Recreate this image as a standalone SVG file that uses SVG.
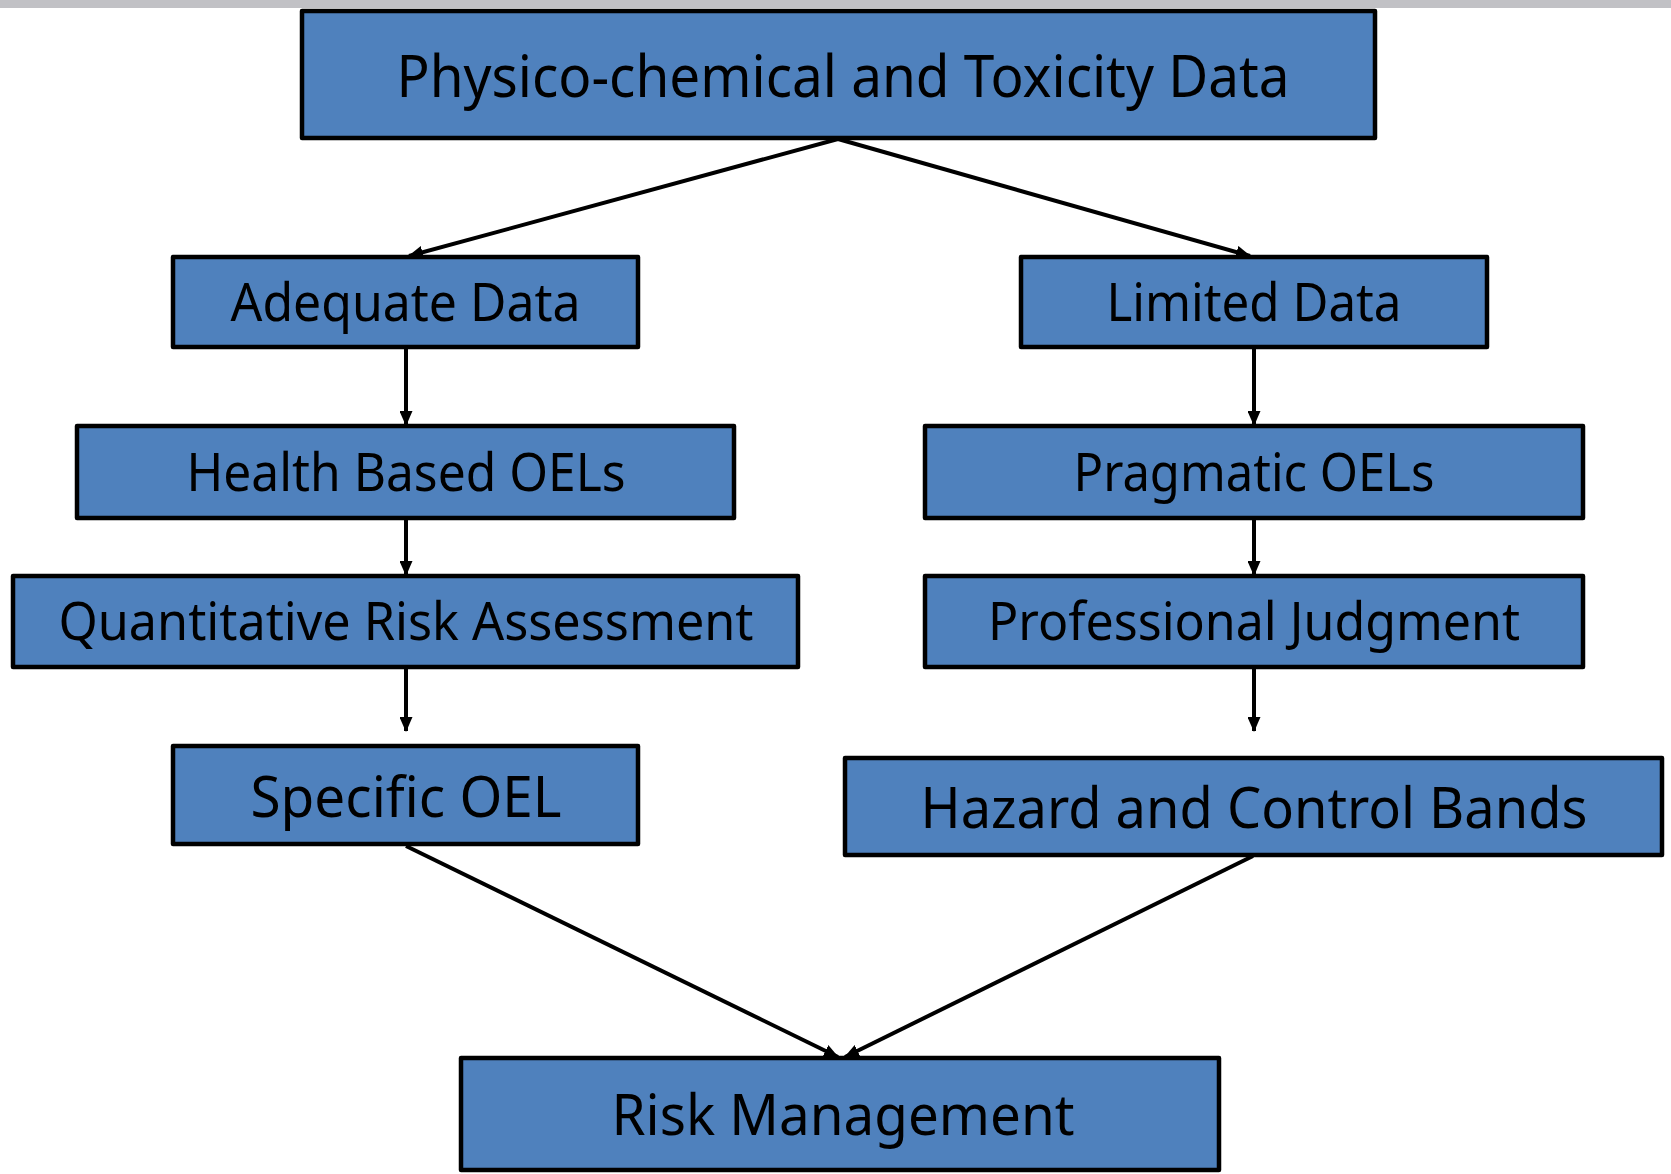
<svg xmlns="http://www.w3.org/2000/svg" width="1671" height="1174" viewBox="0 0 1671 1174">
<style>
.box{fill:#4F81BD;stroke:#000;stroke-width:4.5;stroke-linejoin:round}
.t{font-family:"Noto Sans","Open Sans",sans-serif;fill:#000;text-anchor:middle}
.c{stroke:#000;stroke-width:4;fill:none;marker-end:url(#ah)}
</style>
<defs>
<marker id="ah" markerUnits="userSpaceOnUse" markerWidth="15" markerHeight="13" refX="14" refY="6.5" orient="auto">
<path d="M0,0 L15,6.5 L0,13 Z" fill="#000"/>
</marker>
</defs>
<rect x="0" y="0" width="1671" height="8" fill="#c1c1c5"/>
<g id="connectors">
<line class="c" x1="838" y1="139" x2="409" y2="256"/>
<line class="c" x1="838" y1="139" x2="1250" y2="256"/>
<line class="c" x1="406" y1="349" x2="406" y2="425"/>
<line class="c" x1="406" y1="520" x2="406" y2="575"/>
<line class="c" x1="406" y1="669" x2="406" y2="731"/>
<line class="c" x1="1254" y1="349" x2="1254" y2="425"/>
<line class="c" x1="1254" y1="520" x2="1254" y2="575"/>
<line class="c" x1="1254" y1="669" x2="1254" y2="731"/>
<line class="c" x1="406" y1="846" x2="838" y2="1057"/>
<line class="c" x1="1253" y1="856" x2="845" y2="1057"/>
</g>
<g id="n1"><rect class="box" x="302" y="11" width="1073" height="127"/><text class="t" x="843" y="97" font-size="59" textLength="893" lengthAdjust="spacingAndGlyphs">Physico-chemical and Toxicity Data</text></g>
<g id="n2"><rect class="box" x="173" y="257" width="465" height="90"/><text class="t" x="405.5" y="321" font-size="52" textLength="350" lengthAdjust="spacingAndGlyphs">Adequate Data</text></g>
<g id="n3"><rect class="box" x="1021" y="257" width="466" height="90"/><text class="t" x="1254" y="321" font-size="52" textLength="295" lengthAdjust="spacingAndGlyphs">Limited Data</text></g>
<g id="n4"><rect class="box" x="77" y="426" width="657" height="92"/><text class="t" x="406" y="491" font-size="53" textLength="439" lengthAdjust="spacingAndGlyphs">Health Based OELs</text></g>
<g id="n5"><rect class="box" x="925" y="426" width="658" height="92"/><text class="t" x="1254" y="491" font-size="53" textLength="361" lengthAdjust="spacingAndGlyphs">Pragmatic OELs</text></g>
<g id="n6"><rect class="box" x="13" y="576" width="785" height="91"/><text class="t" x="406" y="640" font-size="53" textLength="695" lengthAdjust="spacingAndGlyphs">Quantitative Risk Assessment</text></g>
<g id="n7"><rect class="box" x="925" y="576" width="658" height="91"/><text class="t" x="1254" y="640" font-size="53" textLength="532" lengthAdjust="spacingAndGlyphs">Professional Judgment</text></g>
<g id="n8"><rect class="box" x="173" y="746" width="465" height="98"/><text class="t" x="406" y="817" font-size="57" textLength="311" lengthAdjust="spacingAndGlyphs">Specific OEL</text></g>
<g id="n9"><rect class="box" x="845" y="758" width="817" height="97"/><text class="t" x="1254" y="828" font-size="57" textLength="667" lengthAdjust="spacingAndGlyphs">Hazard and Control Bands</text></g>
<g id="n10"><rect class="box" x="461" y="1058" width="758" height="112"/><text class="t" x="843" y="1135" font-size="57" textLength="463" lengthAdjust="spacingAndGlyphs">Risk Management</text></g>
</svg>
